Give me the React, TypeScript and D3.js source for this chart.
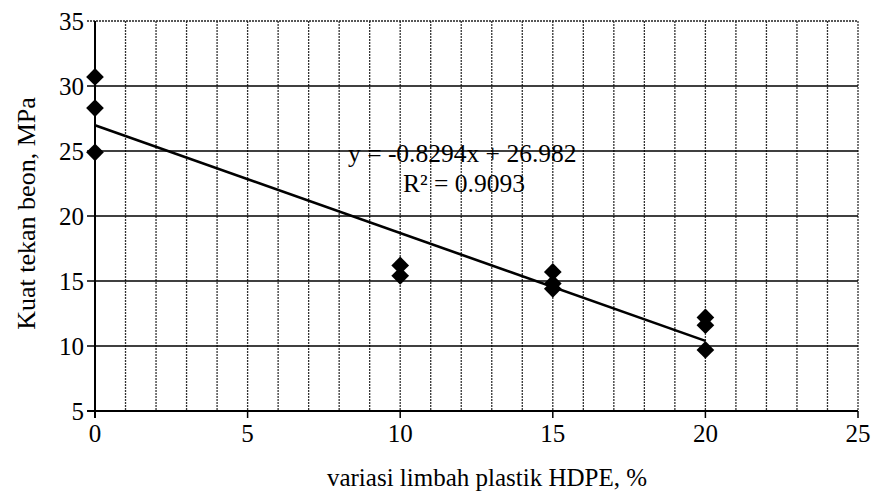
import React from "react";
import * as d3 from "d3";

const xTicks = [0, 5, 10, 15, 20, 25];
const yTicks = [5, 10, 15, 20, 25, 30, 35];
const pointsX = [0, 0, 0, 10, 10, 15, 15, 15, 20, 20, 20];
const pointsY = [30.7, 28.3, 24.9, 16.2, 15.4, 15.7, 14.8, 14.4, 12.2, 11.6, 9.7];
const slope = -0.8294;
const intercept = 26.982;
const trendX = [0, 20];
const eqText = "y = -0.8294x + 26.982";
const r2Text = "R² = 0.9093";
const xTitle = "variasi limbah plastik HDPE, %";
const yTitle = "Kuat tekan beon, MPa";

export default function App() {
  const W = 873, H = 495;
  const left = 95, right = 858, top = 21, bottom = 411;
  const x = d3.scaleLinear().domain([0, 25]).range([left, right]);
  const y = d3.scaleLinear().domain([5, 35]).range([bottom, top]);
  const font = '"Times New Roman", Times, "Liberation Serif", "DejaVu Serif", "Noto Serif", serif';
  const diamond = d3.symbol().type(d3.symbolDiamond2).size(200)();
  const minor = d3.range(1, 26);
  const line = d3.line<number>().x((d) => x(d)).y((d) => y(slope * d + intercept));

  return (
    <svg width={W} height={H} style={{ position: "absolute", left: 0, top: 0, background: "#fff" }}>
      <rect width={W} height={H} fill="#fff" />
      {minor.map((v) => (
        <line key={"v" + v} x1={x(v)} x2={x(v)} y1={y(35)} y2={y(5)}
          stroke="#333" strokeWidth={1.3} strokeDasharray="2,1" />
      ))}
      {yTicks.map((v) => (
        <line key={"h" + v} x1={left - 8} x2={right} y1={y(v)} y2={y(v)}
          stroke={v === 35 ? "#222" : "#000"} strokeWidth={1.6}
          strokeDasharray={v === 35 ? "2,1" : undefined} />
      ))}
      <line x1={left} x2={left} y1={y(35)} y2={y(5) + 7} stroke="#000" strokeWidth={2} />
      <line x1={left - 8} x2={right} y1={y(5)} y2={y(5)} stroke="#000" strokeWidth={2} />
      {xTicks.map((v) => (
        <line key={"xt" + v} x1={x(v)} x2={x(v)} y1={y(5)} y2={y(5) + 7} stroke="#000" strokeWidth={1.5} />
      ))}
      <path d={line(trendX) || ""} fill="none" stroke="#000" strokeWidth={2.6} />
      {pointsX.map((px, i) => (
        <path key={"p" + i} d={diamond || ""} transform={`translate(${x(px)},${y(pointsY[i])})`} fill="#000" />
      ))}
      <g fontFamily={font} fill="#000">
        {yTicks.map((v) => (
          <text key={"yl" + v} x={left - 11} y={y(v)} dy="0.35em" textAnchor="end" fontSize={25}>{v}</text>
        ))}
        {xTicks.map((v) => (
          <text key={"xl" + v} x={x(v)} y={y(5) + 31} textAnchor="middle" fontSize={25}>{v}</text>
        ))}
        <text x={348} y={162} fontSize={25.5}>{eqText}</text>
        <text x={403} y={192} fontSize={25.5}>{r2Text}</text>
        <text x={487} y={486} textAnchor="middle" fontSize={25}>{xTitle}</text>
        <text transform={`translate(35,213.5) rotate(-90)`} textAnchor="middle" fontSize={26}>{yTitle}</text>
      </g>
    </svg>
  );
}
